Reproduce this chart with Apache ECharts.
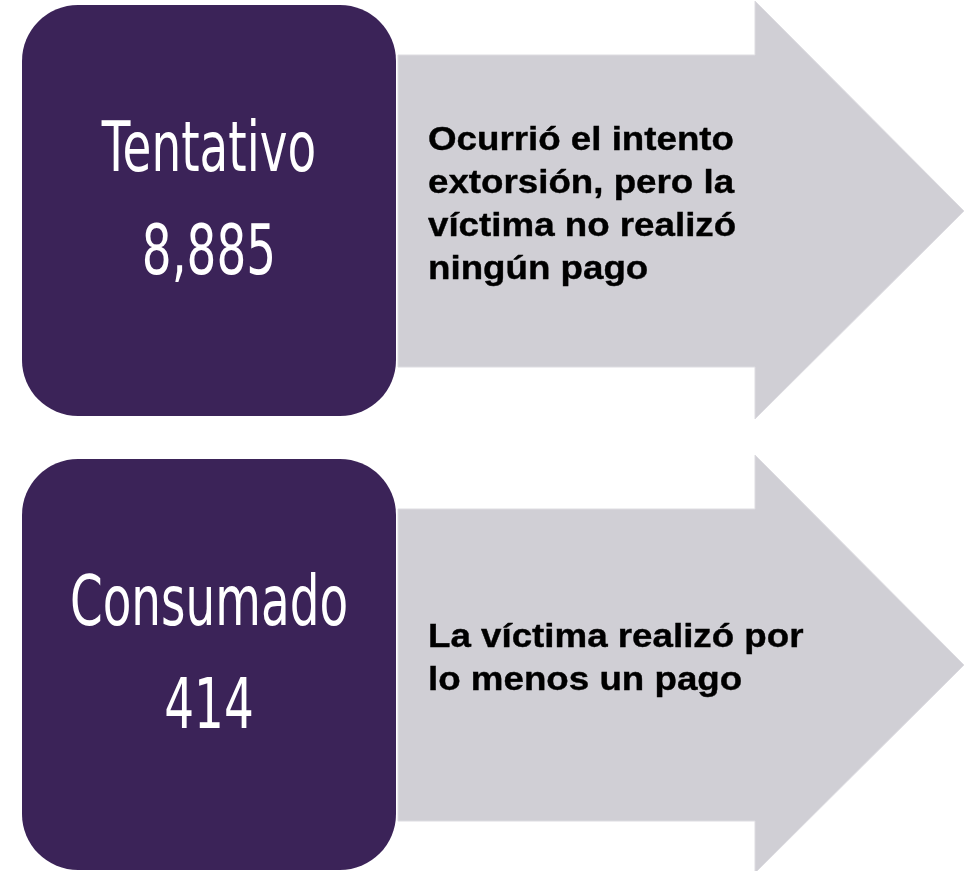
<!DOCTYPE html>
<html lang="es">
<head>
    <meta charset="UTF-8">
    <script src="https://cdn.jsdelivr.net/npm/echarts@6/dist/echarts.min.js"></script>
    <title>Extorsión</title>
    <style>
        html, body {margin: 0; padding: 0; background: #ffffff;}
    </style>
</head>
<body>

<div id="ec1" style="width:974px;height:871px;"></div>

<script>
    // datos
    var categorias = ['Tentativo', 'Consumado'];
    var valores = [8885, 414];
    var descripciones = [
        'Ocurrió el intento\nextorsión, pero la\nvíctima no realizó\nningún pago',
        'La víctima realizó por\nlo menos un pago'
    ];

    var myChart = echarts.init(document.getElementById('ec1'));

    function renderItem(params, api) {
        var idx = api.value(1);
        var cy = api.coord([0, idx])[1];
        var x0 = params.coordSys.x;

        // flecha gris
        var arrow = {
            type: 'polygon',
            shape: {
                points: [
                    [x0 + 398, cy - 156], [x0 + 755, cy - 156], [x0 + 755, cy - 210],
                    [x0 + 964, cy], [x0 + 755, cy + 208], [x0 + 755, cy + 156],
                    [x0 + 398, cy + 156]
                ]
            },
            style: {fill: '#d0cfd5', stroke: '#dddce1', lineWidth: 1}
        };
        // cuadro morado
        var box = {
            type: 'rect',
            shape: {x: x0 + 22, y: cy - 206, width: 374, height: 411, r: 56},
            style: {fill: '#3b2358'}
        };
        var nombre = {
            type: 'text',
            x: x0 + 209, y: cy - 58,
            scaleX: 0.67,
            style: {
                text: categorias[idx], x: 0, y: 0,
                fill: '#ffffff', fontSize: 70, fontFamily: 'DejaVu Sans',
                align: 'center', verticalAlign: 'middle'
            }
        };
        var valor = {
            type: 'text',
            x: x0 + 209, y: cy + 45,
            scaleX: 0.67,
            style: {
                text: valores[idx].toLocaleString('en-US'), x: 0, y: 0,
                fill: '#ffffff', fontSize: 70, fontFamily: 'DejaVu Sans',
                align: 'center', verticalAlign: 'middle'
            }
        };
        var desc = {
            type: 'text',
            x: x0 + 428, y: cy - 6,
            scaleX: 1.08,
            style: {
                text: descripciones[idx], x: 0, y: 0,
                fill: '#000000', fontSize: 34, fontWeight: 'bold',
                fontFamily: 'Liberation Sans', lineHeight: 43,
                stroke: '#000000', lineWidth: 0.4,
                align: 'left', verticalAlign: 'middle'
            }
        };
        return {type: 'group', children: [arrow, box, nombre, valor, desc]};
    }

    myChart.setOption({
        animation: false,
        grid: {left: 0, right: 0, top: 211, bottom: 206},
        xAxis: {type: 'value', show: false, min: 0, max: 10000},
        yAxis: {type: 'category', data: categorias, inverse: true, show: false, boundaryGap: false},
        series: [{
            type: 'custom',
            renderItem: renderItem,
            clip: false,
            data: valores.map(function (v, i) { return [v, i]; })
        }]
    });
</script>

</body>
</html>
